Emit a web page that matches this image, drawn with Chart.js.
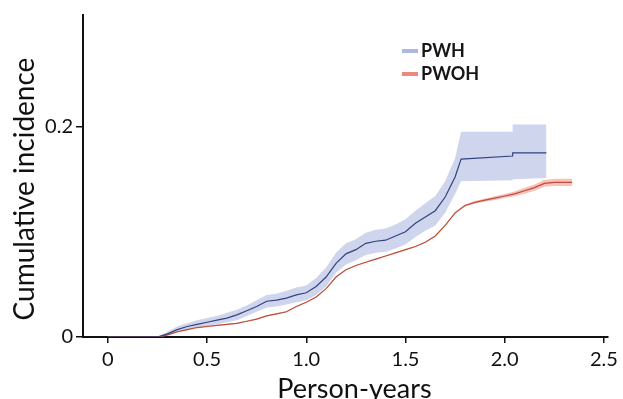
<!DOCTYPE html>
<html>
<head>
<meta charset="utf-8">
<script src="https://cdn.jsdelivr.net/npm/chart.js@4.4.1/dist/chart.umd.min.js"></script>
<style>
  html, body { margin: 0; padding: 0; background: #ffffff; }
  #wrap { width: 623px; height: 399px; position: relative; }
</style>
</head>
<body>
<div id="wrap"><canvas id="c" width="623" height="399"></canvas></div>
<script>
// ---- Data ----
const seriesNames = ["PWH", "PWOH"];

const pwhX     = [0, 0.25, 0.30, 0.35, 0.40, 0.45, 0.50, 0.55, 0.60, 0.65, 0.70, 0.75, 0.80, 0.85, 0.90, 0.95, 1.00, 1.05, 1.10, 1.15, 1.20, 1.25, 1.30, 1.35, 1.40, 1.45, 1.50, 1.55, 1.60, 1.65, 1.70, 1.75, 1.78, 2.04, 2.04, 2.21];
const pwhEst   = [0, 0, 0.003, 0.007, 0.010, 0.012, 0.014, 0.016, 0.018, 0.021, 0.025, 0.029, 0.034, 0.035, 0.037, 0.040, 0.042, 0.048, 0.057, 0.070, 0.079, 0.083, 0.089, 0.091, 0.092, 0.096, 0.100, 0.108, 0.114, 0.120, 0.133, 0.152, 0.169, 0.172, 0.175, 0.175];
const pwhLower = [0, 0, 0.001, 0.004, 0.007, 0.009, 0.010, 0.012, 0.014, 0.016, 0.020, 0.024, 0.028, 0.029, 0.031, 0.033, 0.035, 0.040, 0.048, 0.061, 0.069, 0.073, 0.078, 0.080, 0.081, 0.084, 0.088, 0.095, 0.101, 0.106, 0.118, 0.136, 0.148, 0.149, 0.150, 0.151];
const pwhUpper = [0, 0, 0.005, 0.010, 0.013, 0.016, 0.018, 0.020, 0.023, 0.026, 0.030, 0.035, 0.040, 0.041, 0.044, 0.047, 0.049, 0.056, 0.066, 0.080, 0.089, 0.093, 0.099, 0.102, 0.103, 0.107, 0.112, 0.120, 0.127, 0.134, 0.148, 0.170, 0.195, 0.195, 0.202, 0.202];

const pwohX     = [0, 0.25, 0.30, 0.35, 0.40, 0.45, 0.50, 0.55, 0.60, 0.65, 0.70, 0.75, 0.80, 0.85, 0.90, 0.95, 1.00, 1.05, 1.10, 1.15, 1.20, 1.25, 1.30, 1.35, 1.40, 1.45, 1.50, 1.55, 1.60, 1.65, 1.70, 1.75, 1.80, 1.85, 1.90, 1.95, 2.00, 2.05, 2.10, 2.15, 2.20, 2.25, 2.34];
const pwohEst   = [0, 0, 0.002, 0.005, 0.007, 0.009, 0.010, 0.011, 0.012, 0.013, 0.015, 0.017, 0.020, 0.022, 0.024, 0.029, 0.033, 0.038, 0.046, 0.057, 0.064, 0.068, 0.071, 0.074, 0.077, 0.080, 0.083, 0.086, 0.090, 0.096, 0.106, 0.118, 0.125, 0.128, 0.130, 0.132, 0.134, 0.136, 0.139, 0.142, 0.146, 0.147, 0.147];
const pwohLower = [0, 0, 0.0015, 0.0045, 0.0065, 0.0085, 0.0095, 0.0105, 0.0115, 0.0125, 0.0145, 0.0165, 0.0195, 0.0215, 0.0235, 0.0285, 0.0325, 0.0375, 0.0455, 0.0565, 0.0635, 0.0675, 0.0705, 0.0735, 0.0765, 0.0795, 0.0825, 0.0855, 0.0895, 0.0955, 0.1055, 0.1172, 0.1240, 0.1268, 0.1285, 0.1302, 0.1320, 0.1337, 0.1362, 0.1390, 0.1428, 0.1435, 0.1435];
const pwohUpper = [0, 0, 0.0025, 0.0055, 0.0075, 0.0095, 0.0105, 0.0115, 0.0125, 0.0135, 0.0155, 0.0175, 0.0205, 0.0225, 0.0245, 0.0295, 0.0335, 0.0385, 0.0465, 0.0575, 0.0645, 0.0685, 0.0715, 0.0745, 0.0775, 0.0805, 0.0835, 0.0865, 0.0905, 0.0965, 0.1065, 0.1188, 0.1260, 0.1292, 0.1315, 0.1338, 0.1360, 0.1383, 0.1418, 0.1450, 0.1492, 0.1505, 0.1505];

const xTickValues = [0, 0.5, 1.0, 1.5, 2.0, 2.5];
const xTickLabels = ["0", "0.5", "1.0", "1.5", "2.0", "2.5"];
const yTickValues = [0, 0.2];
const yTickLabels = ["0", "0.2"];

const xTitle = "Person-years";
const yTitle = "Cumulative incidence";

// ---- Build ----
const pts = (xs, ys) => xs.map((x, i) => ({ x: x, y: ys[i] }));
const FONT = "Lato, 'Open Sans', sans-serif";

const legendPlugin = {
  id: 'customLegend',
  afterDraw(chart) {
    const ctx = chart.ctx;
    const items = [
      { text: seriesNames[0], color: 'rgba(172,184,224,1)', y: 51 },
      { text: seriesNames[1], color: 'rgba(238,136,126,1)', y: 74 }
    ];
    ctx.save();
    ctx.font = "bold 18px " + FONT;
    ctx.textBaseline = 'middle';
    ctx.textAlign = 'left';
    items.forEach(it => {
      ctx.strokeStyle = it.color;
      ctx.lineWidth = 4;
      ctx.beginPath();
      ctx.moveTo(402, it.y);
      ctx.lineTo(418, it.y);
      ctx.stroke();
      ctx.fillStyle = '#161616';
      ctx.fillText(it.text, 421, it.y);
    });
    ctx.restore();
  }
};

const shiftTitles = {
  id: 'shiftTitles',
  beforeDraw(chart) {
    const shifts = { x: [9, 0], y: [0, 13] };
    Object.keys(shifts).forEach(id => {
      const s = chart.scales[id];
      if (s && !s._titleShifted) {
        const orig = s.drawTitle;
        const [dx, dy] = shifts[id];
        s.drawTitle = function () {
          const c = this.ctx;
          c.save();
          c.translate(dx, dy);
          orig.apply(this, arguments);
          c.restore();
        };
        s._titleShifted = true;
      }
    });
  }
};

new Chart(document.getElementById('c'), {
  type: 'line',
  data: {
    datasets: [
      { label: seriesNames[0], data: pts(pwhX, pwhEst), borderColor: '#34427e', borderWidth: 1.2, pointRadius: 0, fill: false, order: 0, tension: 0 },
      { label: seriesNames[1], data: pts(pwohX, pwohEst), borderColor: '#bd4e39', borderWidth: 1.2, pointRadius: 0, fill: false, order: 1, tension: 0 },
      { label: 'PWOH upper', data: pts(pwohX, pwohUpper), borderWidth: 0, borderColor: 'rgba(0,0,0,0)', pointRadius: 0, fill: '+1', backgroundColor: 'rgba(242,140,128,0.55)', order: 2, tension: 0 },
      { label: 'PWOH lower', data: pts(pwohX, pwohLower), borderWidth: 0, borderColor: 'rgba(0,0,0,0)', pointRadius: 0, fill: false, order: 3, tension: 0 },
      { label: 'PWH upper', data: pts(pwhX, pwhUpper), borderWidth: 0, borderColor: 'rgba(0,0,0,0)', pointRadius: 0, fill: '+1', backgroundColor: 'rgba(165,178,222,0.55)', order: 4, tension: 0 },
      { label: 'PWH lower', data: pts(pwhX, pwhLower), borderWidth: 0, borderColor: 'rgba(0,0,0,0)', pointRadius: 0, fill: false, order: 5, tension: 0 }
    ]
  },
  options: {
    responsive: false,
    animation: false,
    devicePixelRatio: 1,
    layout: { padding: { top: 13, right: 13, bottom: 0, left: 0 } },
    plugins: { legend: { display: false }, tooltip: { enabled: false } },
    scales: {
      x: {
        type: 'linear',
        min: -0.125,
        max: 2.52,
        afterFit: s => { s.height = 62; },
        afterBuildTicks: s => { s.ticks = xTickValues.map(v => ({ value: v })); },
        border: { display: true, color: '#111111', width: 2 },
        grid: { drawOnChartArea: false, drawTicks: true, tickLength: 6, color: '#111111', lineWidth: 1.5 },
        ticks: {
          padding: 5,
          color: '#111111',
          font: { family: FONT, size: 20 },
          maxRotation: 0,
          callback: (v) => { const i = xTickValues.indexOf(v); return i >= 0 ? xTickLabels[i] : ''; }
        },
        title: { display: true, text: xTitle, color: '#111111', font: { family: FONT, size: 27, lineHeight: 1 }, padding: { top: 0, bottom: -4 } }
      },
      y: {
        type: 'linear',
        min: 0,
        max: 0.306,
        afterFit: s => { s.width = 83; },
        afterBuildTicks: s => { s.ticks = yTickValues.map(v => ({ value: v })); },
        border: { display: true, color: '#111111', width: 2 },
        grid: { drawOnChartArea: false, drawTicks: true, tickLength: 7, color: '#111111', lineWidth: 1.5 },
        ticks: {
          padding: 3,
          color: '#111111',
          font: { family: FONT, size: 20 },
          callback: (v) => { const i = yTickValues.indexOf(v); return i >= 0 ? yTickLabels[i] : ''; }
        },
        title: { display: true, text: yTitle, color: '#111111', font: { family: FONT, size: 28, lineHeight: 1 }, padding: { top: 11, bottom: 0 } }
      }
    }
  },
  plugins: [shiftTitles, legendPlugin]
});
</script>
</body>
</html>
